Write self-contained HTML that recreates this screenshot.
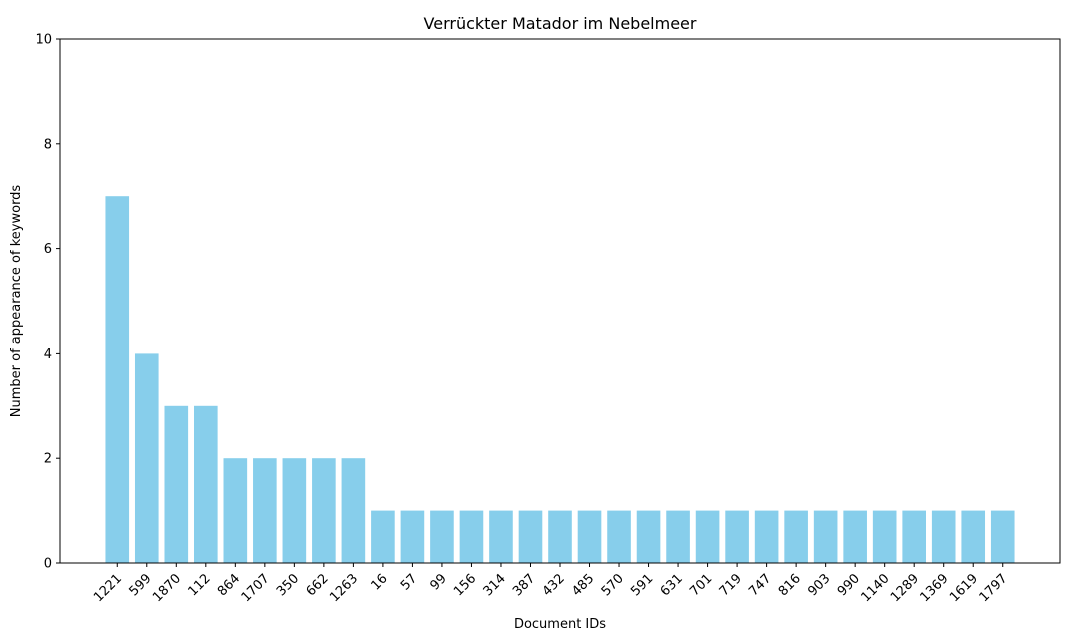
<!DOCTYPE html>
<html><head><meta charset="utf-8"><style>
body{margin:0;background:#fff}
svg{display:block;font-family:"DejaVu Sans","Liberation Sans",sans-serif}
</style></head><body>
<svg id="chart" width="1073" height="631" viewBox="0 0 1073 631">
<text x="560" y="29" text-anchor="middle" font-size="16" fill="#000">Verrückter Matador im Nebelmeer</text>
<text transform="translate(20,301) rotate(-90)" text-anchor="middle" font-size="13">Number of appearance of keywords</text>
<text x="560" y="628" text-anchor="middle" font-size="13">Document IDs</text>
<g id="bars"></g><g id="xt"></g><g id="yt"></g>
<rect x="60" y="39" width="1000" height="524" fill="none" stroke="#000" stroke-width="1"/>
</svg>
<script>
const categories=["1221","599","1870","112","864","1707","350","662","1263","16","57","99","156","314","387","432","485","570","591","631","701","719","747","816","903","990","1140","1289","1369","1619","1797"];
const values=[7,4,3,3,2,2,2,2,2,1,1,1,1,1,1,1,1,1,1,1,1,1,1,1,1,1,1,1,1,1,1];
const yTicks=[0,2,4,6,8,10];
const NS="http://www.w3.org/2000/svg";
const L=60,R=1060,T=39,B=563;
const n=categories.length;
const xmin=-0.4-0.05*(n-0.2),xmax=n-0.6+0.05*(n-0.2);
const xs=v=>L+(v-xmin)/(xmax-xmin)*(R-L);
const ys=v=>B-(v/10)*(B-T);
const mk=(t,a,p)=>{const e=document.createElementNS(NS,t);for(const k in a)e.setAttribute(k,a[k]);p.appendChild(e);return e;};
const gb=document.getElementById('bars'),gx=document.getElementById('xt'),gy=document.getElementById('yt');
categories.forEach((c,i)=>{
  const x0=xs(i-0.4),x1=xs(i+0.4);
  const r=mk('rect',{x:x0,y:ys(values[i]),width:x1-x0,height:B-ys(values[i]),fill:'#87ceeb'},gb);
  
  
  const cx=xs(i);
  const tk=mk('line',{x1:cx,x2:cx,y1:B,y2:B+4,stroke:'#000'},gx);
  
  
  const t=mk('text',{transform:`translate(${cx+5},${B+16}) rotate(-45)`,'text-anchor':'end','font-size':'13'},gx);
  t.textContent=c;
  
  
});
yTicks.forEach(v=>{
  const y=ys(v);
  const tk=mk('line',{x1:L-4,x2:L,y1:y,y2:y,stroke:'#000'},gy);
  
  
  const t=mk('text',{x:L-8,y:y+4.5,'text-anchor':'end','font-size':'13'},gy);
  t.textContent=v;
  
  
});
</script>
</body></html>
